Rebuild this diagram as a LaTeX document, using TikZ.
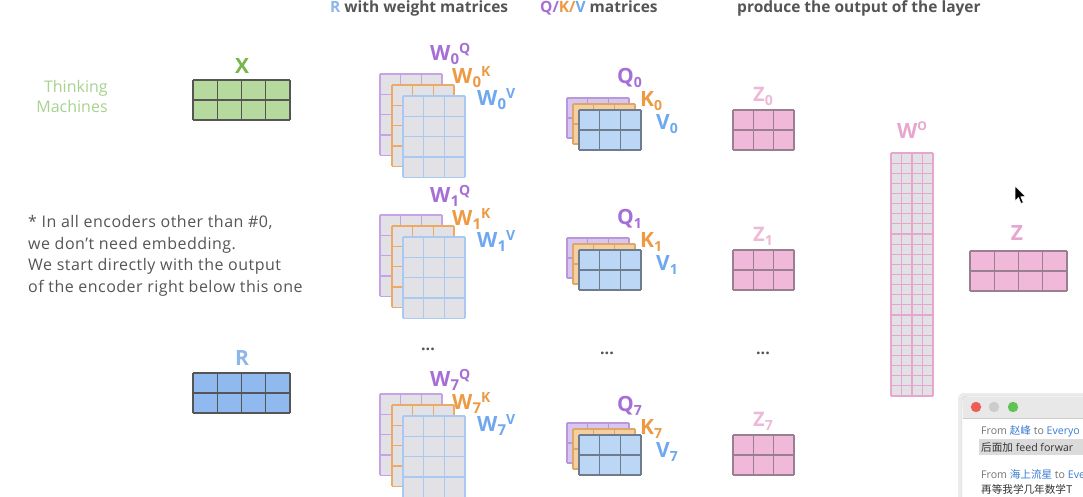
\documentclass[tikz,border=0pt]{standalone}
\usepackage{fontspec}
\setmainfont{Open Sans}
\newfontfamily\cjk{Noto Sans CJK SC}
\definecolor{txtgray}{HTML}{555555}
\definecolor{wq}{HTML}{A66FD6}
\definecolor{wk}{HTML}{EE9A45}
\definecolor{wv}{HTML}{6FA8EE}
\definecolor{wqline}{HTML}{C8A2E8}
\definecolor{wkline}{HTML}{EDAA66}
\definecolor{wvline}{HTML}{A9C9F2}
\definecolor{cellgray}{HTML}{E2E2E6}
\definecolor{qfill}{HTML}{D8C6EE}
\definecolor{kfill}{HTML}{F6CFA0}
\definecolor{vfill}{HTML}{BCD6F6}
\definecolor{qline}{HTML}{B898DA}
\definecolor{kline}{HTML}{DDA66A}
\definecolor{vline}{HTML}{6E7C8E}
\definecolor{xgreen}{HTML}{78B64C}
\definecolor{lgreen}{HTML}{A8D290}
\definecolor{xfill}{HTML}{B6DA9E}
\definecolor{rblue}{HTML}{8DB6EC}
\definecolor{rfill}{HTML}{8FB9EF}
\definecolor{zlab}{HTML}{EDB9D8}
\definecolor{zfill}{HTML}{F0B8D9}
\definecolor{zline}{HTML}{9A7F90}
\definecolor{wopink}{HTML}{E6A6CF}
\definecolor{chatblue}{HTML}{3A7BD5}
\definecolor{mred}{HTML}{EE5C55}
\definecolor{mgreen}{HTML}{5FC454}
\newcommand\mymat[8]{%
  \fill[#7] (#1,#2) rectangle ++({#3*#5},{#4*#6});
  \foreach \k in {0,...,#3} \draw[#8,line width=1.3pt] ({#1+\k*#5},{#2}) -- ++(0,{#4*#6});
  \foreach \k in {0,...,#4} \draw[#8,line width=1.3pt] ({#1},{#2+\k*#6}) -- ++({#3*#5},0);
}
\newcommand\wstack[1]{%
  \mymat{380}{74+#1}{3}{4}{20.7}{20.3}{cellgray}{wqline}
  \mymat{392}{85+#1}{3}{4}{20.7}{20.3}{cellgray}{wkline}
  \mymat{403}{96+#1}{3}{4}{20.7}{20.3}{cellgray}{wvline}
}
\newcommand\qstack[1]{%
  \mymat{567}{98+#1}{3}{2}{20.7}{20}{qfill}{qline}
  \mymat{573}{104+#1}{3}{2}{20.7}{20}{kfill}{kline}
  \mymat{579}{110+#1}{3}{2}{20.7}{20}{vfill}{vline}
}
\newcommand\wlab[2]{W\raisebox{-0.2em}{\fontsize{15}{15}\selectfont #1}\raisebox{0.33em}{\fontsize{14}{14}\selectfont #2}}
\newcommand\slab[2]{#1\raisebox{-0.2em}{\fontsize{14}{14}\selectfont #2}}
\tikzset{
  biglab/.style={font=\fontsize{21}{24}\selectfont\bfseries, inner sep=0pt},
  hdr/.style={font=\fontsize{15.5}{16}\selectfont\bfseries, text=txtgray, inner sep=0pt, anchor=base west},
  note/.style={font=\fontsize{16}{21.7}\selectfont\addfontfeatures{LetterSpace=3}, text=txtgray, inner sep=0pt, align=left, anchor=north west},
  dots/.style={font=\fontsize{16}{16}\selectfont\bfseries, text=txtgray, inner sep=0pt},
  chat/.style={font=\fontsize{10.6}{12}\selectfont, inner sep=0pt, anchor=base west},
}
\begin{document}
\begin{tikzpicture}[x=1pt,y=-1pt]
\useasboundingbox (0,0) rectangle (1083,496);
\fill[white] (0,0) rectangle (1083,496);
% headers
\node[hdr] (h1) at (330,12) {\textcolor{rblue}{R} with weight matrices};
\node[hdr] (h2) at (540,12) {\textcolor{wq}{Q/}\textcolor{wk}{K/}\textcolor{wv}{V} matrices};
\node[hdr] (h3) at (737,12) {produce the output of the layer};
% input
\node[font=\fontsize{16}{20}\selectfont, text=lgreen, align=right, inner sep=0pt] (tm) at (72,96) {Thinking\\Machines};
\node[biglab, text=xgreen] (xl) at (242,66) {X};
\mymat{193}{80}{4}{2}{24.25}{20}{xfill}{txtgray}
\node[note] (nt) at (28,215) {* In all encoders other than \#0,\\we don’t need embedding.\\We start directly with the output\\of the encoder right below this one};
\node[biglab, text=rblue] (rl) at (242,358) {R};
\mymat{193}{373}{4}{2}{24.25}{20}{rfill}{txtgray}
% weight stacks
\wstack{0}
\wstack{141}
\wstack{320}
\foreach \d/\n in {0/0,142/1,326/7}{
  \node[biglab, text=wq, anchor=west] at (430,54+\d) {\wlab{\n}{Q}};
  \node[biglab, text=wk, anchor=west] at (452,77+\d) {\wlab{\n}{K}};
  \node[biglab, text=wv, anchor=west] at (477,99+\d) {\wlab{\n}{V}};
}
% qkv stacks
\qstack{0}
\qstack{140}
\qstack{325}
\foreach \d/\n in {0/0,141/1,328/7}{
  \node[biglab, text=wq, anchor=west] at (617,78+\d) {\slab{Q}{\n}};
  \node[biglab, text=wk, anchor=west] at (640,101+\d) {\slab{K}{\n}};
  \node[biglab, text=wv, anchor=west] at (656,124+\d) {\slab{V}{\n}};
}
% z
\foreach \d/\n in {0/0,140/1,325/7}{
  \node[font=\fontsize{20}{24}\selectfont\bfseries, text=zlab, inner sep=0pt] at (763,96+\d) {\slab{Z}{\n}};
  \mymat{733}{110+\d}{3}{2}{20.3}{20}{zfill}{zline}
}
\node[dots] (d1) at (428,349) {...};
\node[dots] (d2) at (607,353) {...};
\node[dots] (d3) at (763,353) {...};
% W^O
\node[biglab, text=wopink] (wol) at (912,130) {W\raisebox{0.4em}{\fontsize{12}{12}\selectfont O}};
\fill[cellgray] (891,153) rectangle (933,396);
\foreach \k in {0,...,4} \draw[wopink,line width=1.1pt] ({891+\k*10.5},153) -- ({891+\k*10.5},396);
\foreach \k in {0,...,24} \draw[wopink,line width=1.1pt] (891,{153+\k*10.125}) -- (933,{153+\k*10.125});
% Z
\node[biglab, text=wopink] (zl) at (1017,233) {Z};
\mymat{970}{251}{4}{2}{24.25}{20}{zfill}{zline}
% cursor
\filldraw[fill=black,draw=white,line width=0.6pt] (1015,186) -- (1015,201) -- (1018.5,197.5) -- (1021,203.5) -- (1023.3,202.5) -- (1020.8,196.8) -- (1025.5,196.5) -- cycle;
% chat window
\begin{scope}
\clip (0,0) rectangle (1083,496);
\fill[black!8,rounded corners=6pt] (958,393) rectangle (1110,530);
\filldraw[fill=white,draw=black!22,rounded corners=5pt] (962,396) rectangle (1110,530);
\fill[black!9,rounded corners=5pt] (962.5,396.5) rectangle (1110,418);
\fill[black!9] (962.5,410) rectangle (1110,418);
\draw[black!20] (962.5,418) -- (1110,418);
\fill[mred] (976,407) circle (5.2);
\fill[black!20] (994,407) circle (5.2);
\fill[mgreen] (1013,407) circle (5.2);
\node[chat] (c1) at (981,434) {\textcolor{black!55}{From} \textcolor{chatblue}{\cjk 赵峰} \textcolor{black!55}{to} \textcolor{chatblue}{Everyo}};
\fill[black!14] (979,439) rectangle (1090,455);
\node[chat] (c2) at (981,451) {\textcolor{black!80}{{\cjk 后面加} feed forwar}};
\node[chat] (c3) at (981,478) {\textcolor{black!55}{From} \textcolor{chatblue}{\cjk 海上流星} \textcolor{black!55}{to} \textcolor{chatblue}{Eve}};
\node[chat] (c4) at (981,493) {\textcolor{black!80}{\cjk 再等我学几年数学T}};
\end{scope}
\end{tikzpicture}
\end{document}
